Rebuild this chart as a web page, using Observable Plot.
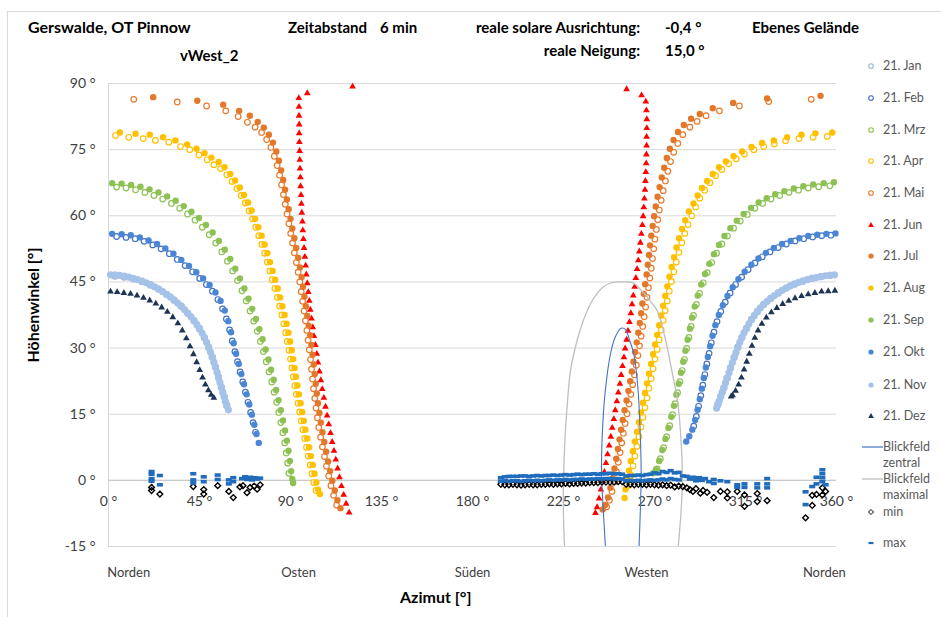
<!DOCTYPE html>
<html><head><meta charset="utf-8">
<script src="https://cdn.jsdelivr.net/npm/d3@7"></script>
<script src="https://cdn.jsdelivr.net/npm/@observablehq/plot@0.6"></script>
<style>
body{margin:0;background:#fff;}
#wrap{position:relative;width:941px;height:617px;overflow:hidden;font-family:Lato,"Open Sans",sans-serif;color:#000;background:#fff;}
#wrap svg.plot{position:absolute;left:0;top:0;}
.frame{position:absolute;left:7px;top:11px;width:940px;height:610px;border-left:1px solid #d9d9d9;border-top:1px solid #d9d9d9;}
.t{position:absolute;white-space:nowrap;font-weight:bold;font-size:15px;line-height:16px;}
.lg{position:absolute;left:862px;font-size:12.5px;color:#595959;line-height:16px;white-space:nowrap;}
.lg svg{position:absolute;left:0;top:0;overflow:visible;}
.lg span{position:absolute;left:21px;top:0;}
</style></head><body>
<div id="wrap">
<div class="frame"></div>
<div class="t" style="left:28px;top:19px;font-size:16px;">Gerswalde, OT Pinnow</div>
<div class="t" style="left:288px;top:19px;">Zeitabstand</div>
<div class="t" style="left:380px;top:19px;">6 min</div>
<div class="t" style="right:301px;top:19px;text-align:right;">reale solare Ausrichtung:</div>
<div class="t" style="left:665px;top:19px;">-0,4 °</div>
<div class="t" style="left:752px;top:19px;">Ebenes Gelände</div>
<div class="t" style="left:180px;top:47px;">vWest_2</div>
<div class="t" style="right:301px;top:42px;text-align:right;">reale Neigung:</div>
<div class="t" style="left:665px;top:42px;">15,0 °</div>
<div class="t" style="left:400px;top:589px;font-size:16px;">Azimut [°]</div>
<div class="t" style="left:33px;top:305px;font-size:16px;transform:translate(-50%,-50%) rotate(-90deg);">Höhenwinkel [°]</div>
</div>
<script>
// ---------- axes / labels ----------
const xTicks = [0, 45, 90, 135, 180, 225, 270, 315, 360];
const yTicks = [-15, 0, 15, 30, 45, 60, 75, 90];
const directions = ["Norden", "Osten", "Süden", "Westen", "Norden"];
const directionAz = [10, 94, 180, 266, 354];
const monthNames = ["21. Jan","21. Feb","21. Mrz","21. Apr","21. Mai","21. Jun","21. Jul","21. Aug","21. Sep","21. Okt","21. Nov","21. Dez"];

// ---------- sun paths [azimuth, elevation] ----------
const janL = [[3.2,46.3],[7.7,46.1],[12.2,45.7],[16.5,45.1],[20.7,44.3],[24.8,43.4],[28.7,42.2],[32.4,40.9],[35.9,39.5],[39.2,37.9],[42.3,36.2],[45.0,34.4],[47.4,32.4],[49.5,30.2],[51.3,28.0],[52.9,25.7],[54.4,23.4],[55.8,21.1],[57.2,19.0],[58.5,17.0]];
const janR = [[356.8,46.5],[352.3,46.2],[347.8,45.8],[343.4,45.2],[339.2,44.5],[335.1,43.6],[331.2,42.5],[327.5,41.3],[324.0,39.9],[320.9,38.3],[318.0,36.5],[315.5,34.5],[313.2,32.4],[311.2,30.2],[309.4,27.9],[307.6,25.5],[305.9,23.2],[304.3,21.0],[302.7,19.0],[301.3,17.2]];
const febL = [[4.0,55.3],[8.7,55.1],[13.2,54.8],[17.6,54.2],[21.9,53.4],[26.0,52.5],[30.1,51.4],[34.0,50.1],[37.9,48.7],[41.6,47.3],[45.1,45.8],[48.4,44.4],[51.4,42.9],[54.1,41.0],[56.4,38.9],[58.3,36.6],[59.9,34.1],[61.2,31.6],[62.5,29.2],[63.8,26.9],[65.1,24.6],[66.4,22.3],[67.7,20.0],[69.0,17.7],[70.3,15.4],[71.5,13.1],[72.7,10.9]];
const febR = [[357.2,55.6],[352.7,55.5],[348.2,55.2],[343.8,54.8],[339.5,54.3],[335.2,53.6],[331.1,52.8],[327.1,51.8],[323.3,50.7],[319.7,49.3],[316.3,47.8],[313.1,46.1],[310.1,44.4],[307.4,42.5],[305.0,40.4],[302.8,38.3],[300.9,36.0],[299.4,33.6],[298.1,31.2],[297.0,28.8],[295.9,26.4],[294.9,24.0],[293.9,21.6],[292.9,19.2],[291.8,16.8],[290.7,14.5],[289.4,12.3]];
const mrzL = [[4.0,66.5],[8.7,66.3],[13.4,65.9],[18.0,65.3],[22.5,64.6],[26.8,63.8],[31.1,62.8],[35.2,61.7],[39.1,60.4],[42.8,59.0],[46.4,57.4],[49.8,55.7],[53.0,53.8],[56.0,51.8],[58.8,49.7],[61.4,47.5],[63.8,45.3],[66.0,43.0],[68.1,40.7],[70.0,38.4],[71.8,36.1],[73.5,33.8],[75.1,31.5],[76.6,29.2],[78.0,26.9],[79.4,24.6],[80.7,22.3],[81.9,20.0],[83.1,17.7],[84.2,15.4],[85.2,13.1],[86.2,10.8],[87.1,8.5],[87.9,6.2],[88.6,3.9],[89.2,1.6]];
const mrzR = [[356.7,66.8],[351.2,66.6],[346.0,66.3],[341.2,65.8],[336.5,65.3],[331.9,64.6],[327.6,63.8],[323.5,62.8],[319.6,61.7],[315.9,60.3],[312.4,58.8],[309.1,57.2],[306.1,55.4],[303.3,53.6],[300.7,51.5],[298.3,49.4],[296.1,47.1],[294.1,44.8],[292.3,42.4],[290.7,39.9],[289.3,37.4],[288.1,34.9],[287.0,32.4],[285.9,29.9],[284.8,27.4],[283.7,24.9],[282.6,22.4],[281.4,19.9],[280.2,17.4],[278.9,14.9],[277.5,12.4],[276.0,9.9],[274.5,7.4],[272.9,4.9],[271.3,2.6]];
const aprL = [[3.5,78.2],[10.0,77.8],[17.2,77.5],[23.2,77.1],[29.8,76.7],[35.6,75.7],[40.2,75.0],[44.7,73.8],[48.8,72.7],[52.1,71.6],[55.4,70.7],[58.5,69.3],[61.1,67.8],[63.5,66.2],[65.6,64.6],[67.6,62.9],[69.5,61.1],[71.2,59.3],[72.8,57.4],[74.3,55.5],[75.8,53.5],[77.2,51.5],[78.5,49.5],[79.8,47.5],[81.0,45.5],[82.3,43.5],[83.5,41.5],[84.6,39.5],[85.7,37.5],[86.7,35.5],[87.6,33.5],[88.4,31.5],[89.2,29.5],[90.0,27.5],[90.7,25.5],[91.4,23.5],[92.1,21.5],[92.9,19.5],[93.7,17.5],[94.5,15.5],[95.3,13.5],[96.1,11.5],[97.0,9.5],[97.9,7.5],[98.8,5.5],[99.7,3.5],[100.6,1.5],[101.5,-0.5],[102.6,-2.3]];
const aprR = [[355.4,78.0],[348.4,77.8],[341.4,77.5],[334.8,77.0],[329.3,76.3],[324.0,75.7],[319.1,75.0],[314.5,74.0],[310.4,72.9],[306.7,71.8],[303.3,70.5],[300.2,69.1],[297.4,67.5],[294.8,65.8],[292.4,64.0],[290.3,62.0],[288.4,60.0],[286.6,58.0],[285.0,56.0],[283.5,53.9],[282.1,51.7],[280.8,49.5],[279.6,47.3],[278.4,45.1],[277.3,42.9],[276.3,40.7],[275.3,38.5],[274.3,36.3],[273.3,34.1],[272.3,31.9],[271.3,29.7],[270.3,27.5],[269.3,25.3],[268.3,23.1],[267.3,20.9],[266.3,18.7],[265.3,16.5],[264.3,14.3],[263.3,12.1],[262.3,9.9],[261.3,7.7],[260.3,5.5],[259.4,3.3],[258.5,1.1],[257.6,-1.1]];
const maiL = [[12.5,86.4],[34.0,85.8],[48.5,84.9],[58.0,83.8],[64.1,82.5],[68.7,81.2],[72.5,80.1],[75.7,78.9],[78.2,77.3],[80.3,75.5],[82.0,73.5],[83.4,71.4],[84.6,69.2],[85.6,67.0],[86.5,64.8],[87.4,62.6],[88.3,60.4],[89.2,58.2],[90.1,56.0],[91.0,53.8],[91.9,51.6],[92.9,49.4],[93.8,47.2],[94.6,45.0],[95.3,42.8],[96.0,40.6],[96.7,38.4],[97.4,36.2],[98.1,34.0],[98.7,31.8],[99.3,29.6],[99.9,27.4],[100.4,25.2],[100.9,23.0],[101.4,20.8],[102.0,18.6],[102.6,16.4],[103.3,14.2],[104.0,12.0],[104.9,9.8],[105.8,7.6],[106.8,5.4],[107.8,3.2],[108.9,1.0],[110.0,-1.2],[111.3,-3.4],[112.8,-5.6]];
const maiR = [[347.5,86.4],[326.5,85.9],[312.0,84.9],[302.1,83.8],[295.5,82.7],[291.1,81.4],[287.5,80.1],[284.0,78.4],[281.5,76.4],[279.5,74.4],[277.9,72.3],[276.6,70.1],[275.4,67.9],[274.3,65.7],[273.3,63.5],[272.4,61.3],[271.6,59.1],[270.9,56.9],[270.2,54.7],[269.6,52.5],[269.0,50.3],[268.4,48.1],[267.7,45.9],[267.0,43.7],[266.3,41.5],[265.6,39.3],[264.9,37.1],[264.2,34.9],[263.4,32.7],[262.6,30.5],[261.8,28.3],[261.0,26.1],[260.1,23.9],[259.2,21.7],[258.3,19.5],[257.4,17.3],[256.4,15.1],[255.5,12.9],[254.6,10.7],[253.8,8.5],[253.0,6.3],[252.1,4.1],[251.2,1.9],[250.2,-0.3],[249.0,-2.5],[247.7,-4.5],[246.3,-6.0]];
const junL = [[120.7,89.3],[98.3,87.8],[94.1,86.7],[94.2,84.7],[94.2,82.7],[94.3,80.7],[94.3,78.7],[94.4,76.7],[94.5,74.7],[94.6,72.7],[94.7,70.7],[94.9,68.7],[95.0,66.7],[95.2,64.7],[95.4,62.7],[95.6,60.7],[95.9,58.7],[96.1,56.7],[96.4,54.7],[96.7,52.7],[97.1,50.7],[97.5,48.7],[97.8,46.7],[98.3,44.7],[98.8,42.7],[99.3,40.7],[99.8,38.7],[100.4,36.7],[101.0,34.7],[101.6,32.7],[102.3,30.7],[103.0,28.7],[103.6,26.7],[104.3,24.7],[105.0,22.7],[105.7,20.7],[106.5,18.7],[107.3,16.7],[108.1,14.7],[108.9,12.7],[109.8,10.7],[110.6,8.7],[111.5,6.7],[112.4,4.7],[113.3,2.7],[114.2,0.7],[115.2,-1.3],[116.3,-3.3],[117.5,-5.3],[119.0,-7.3]];
const junR = [[256.2,88.7],[263.6,87.3],[265.7,85.9],[266.0,83.9],[266.2,81.9],[266.2,79.9],[266.1,77.9],[266.1,75.9],[266.0,73.9],[265.9,71.9],[265.7,69.9],[265.5,67.9],[265.3,65.9],[265.0,63.9],[264.7,61.9],[264.4,59.9],[264.0,57.9],[263.5,55.9],[263.0,53.9],[262.5,51.9],[262.0,49.9],[261.4,47.9],[260.8,45.9],[260.2,43.9],[259.5,41.9],[258.9,39.9],[258.3,37.9],[257.6,35.9],[256.9,33.9],[256.2,31.9],[255.5,29.9],[254.9,27.9],[254.2,25.9],[253.5,23.9],[252.9,21.9],[252.1,19.9],[251.4,17.9],[250.6,15.9],[249.9,13.9],[249.1,11.9],[248.4,9.9],[247.6,7.9],[246.8,5.9],[246.0,3.9],[245.2,1.9],[244.4,-0.1],[243.5,-2.1],[242.6,-4.1],[241.6,-6.1],[240.8,-7.4]];
const julL = [[22.1,86.9],[43.9,86.1],[56.7,85.2],[64.6,83.8],[69.9,82.7],[73.8,81.3],[76.8,80.0],[79.3,78.4],[81.3,76.6],[83.0,74.6],[84.3,72.5],[85.4,70.3],[86.4,68.1],[87.3,65.9],[88.2,63.7],[89.1,61.5],[90.0,59.3],[90.9,57.1],[91.9,54.9],[92.8,52.7],[93.8,50.5],[94.7,48.3],[95.5,46.1],[96.2,43.9],[96.9,41.7],[97.6,39.5],[98.3,37.3],[99.0,35.1],[99.7,32.9],[100.3,30.7],[100.9,28.5],[101.5,26.3],[102.0,24.1],[102.5,21.9],[103.0,19.7],[103.6,17.5],[104.3,15.3],[105.0,13.1],[105.8,10.9],[106.7,8.7],[107.6,6.5],[108.6,4.3],[109.6,2.1],[110.7,-0.1],[111.9,-2.3],[113.2,-4.5],[114.7,-6.3]];
const julR = [[352.1,87.2],[325.7,86.6],[308.9,85.6],[298.8,84.4],[292.4,83.1],[288.1,82.0],[284.5,80.6],[281.6,79.0],[279.4,77.2],[277.6,75.2],[276.1,73.1],[274.8,70.9],[273.6,68.7],[272.5,66.5],[271.5,64.3],[270.6,62.1],[269.8,59.9],[269.1,57.7],[268.4,55.5],[267.8,53.3],[267.3,51.1],[266.7,48.9],[266.1,46.7],[265.4,44.5],[264.7,42.3],[264.0,40.1],[263.4,37.9],[262.7,35.7],[262.0,33.5],[261.2,31.3],[260.4,29.1],[259.6,26.9],[258.8,24.7],[258.0,22.5],[257.1,20.3],[256.2,18.1],[255.2,15.9],[254.3,13.7],[253.5,11.5],[252.7,9.3],[251.9,7.1],[251.1,4.9],[250.2,2.7],[249.3,0.5],[248.2,-1.7],[247.0,-3.9],[245.6,-5.6],[244.4,-6.6]];
const augL = [[5.6,78.9],[13.4,78.6],[20.4,78.4],[27.0,77.8],[33.1,77.1],[38.9,76.2],[43.5,75.2],[47.5,74.2],[50.9,73.2],[54.5,72.2],[57.4,71.0],[60.2,69.5],[62.6,68.0],[64.9,66.4],[67.0,64.7],[69.0,63.0],[70.8,61.2],[72.5,59.3],[74.1,57.4],[75.7,55.5],[77.2,53.5],[78.6,51.5],[79.9,49.5],[81.2,47.5],[82.4,45.5],[83.7,43.5],[84.9,41.5],[86.0,39.5],[87.1,37.5],[88.1,35.5],[89.0,33.5],[89.8,31.5],[90.6,29.5],[91.3,27.5],[92.0,25.5],[92.7,23.5],[93.4,21.5],[94.2,19.5],[95.0,17.5],[95.8,15.5],[96.6,13.5],[97.4,11.5],[98.3,9.5],[99.2,7.5],[100.1,5.5],[101.0,3.5],[101.9,1.5],[102.8,-0.5],[103.7,-2.1],[104.5,-3.1]];
const augR = [[357.9,78.9],[349.6,78.7],[342.7,78.4],[335.6,77.8],[329.0,77.1],[323.2,76.5],[318.0,75.6],[313.3,74.6],[309.1,73.5],[305.3,72.3],[301.9,71.0],[298.8,69.5],[296.0,67.9],[293.5,66.3],[291.3,64.6],[289.3,62.8],[287.0,61.0],[285.2,59.0],[283.6,57.0],[282.2,54.9],[280.9,52.8],[279.7,50.6],[278.5,48.4],[277.4,46.2],[276.3,44.0],[275.3,41.8],[274.3,39.6],[273.3,37.4],[272.3,35.2],[271.3,33.0],[270.3,30.8],[269.3,28.6],[268.3,26.4],[267.3,24.2],[266.3,22.0],[265.3,19.8],[264.3,17.6],[263.3,15.4],[262.3,13.2],[261.3,11.0],[260.3,8.8],[259.3,6.6],[258.3,4.4],[257.4,2.2],[256.5,0.2],[255.7,-2.0],[255.2,-4.0]];
const sepL = [[1.8,67.4],[6.5,67.3],[11.2,67.0],[15.8,66.6],[20.3,66.0],[24.7,65.3],[29.0,64.4],[33.2,63.4],[37.2,62.2],[41.0,60.9],[44.7,59.5],[48.2,57.9],[51.5,56.2],[54.6,54.3],[57.5,52.3],[60.2,50.2],[62.7,48.0],[65.0,45.8],[67.2,43.5],[69.2,41.2],[71.1,38.9],[72.9,36.6],[74.6,34.3],[76.2,32.0],[77.7,29.7],[79.1,27.4],[80.4,25.1],[81.7,22.8],[82.9,20.5],[84.1,18.2],[85.2,15.9],[86.3,13.6],[87.3,11.3],[88.2,9.0],[89.0,6.7],[89.7,4.4],[90.3,2.1],[90.9,0.3],[91.3,-0.6]];
const sepR = [[358.7,67.6],[353.7,67.4],[348.5,67.1],[343.6,66.7],[338.9,66.2],[334.2,65.6],[329.7,64.9],[325.5,64.0],[321.5,63.0],[317.7,61.8],[314.1,60.4],[310.7,58.9],[307.5,57.2],[304.6,55.4],[301.9,53.4],[299.4,51.3],[297.1,49.1],[295.0,46.8],[293.1,44.4],[291.4,41.9],[289.9,39.4],[288.6,36.9],[287.5,34.4],[286.4,31.9],[285.3,29.4],[284.2,26.9],[283.1,24.4],[282.0,21.9],[280.8,19.4],[279.6,16.9],[278.3,14.4],[276.9,11.9],[275.4,9.4],[273.9,6.9],[272.3,4.4],[270.7,2.5],[269.3,1.6]];
const oktL = [[1.8,55.9],[6.5,55.8],[11.0,55.6],[15.5,55.1],[19.8,54.4],[24.0,53.6],[28.1,52.6],[32.1,51.4],[36.0,50.0],[39.8,48.6],[43.4,47.2],[46.8,45.8],[50.0,44.3],[52.9,42.6],[55.4,40.7],[57.5,38.5],[59.2,36.1],[60.6,33.6],[61.9,31.1],[63.1,28.7],[64.4,26.4],[65.7,24.1],[67.0,21.8],[68.3,19.5],[69.6,17.2],[70.9,14.9],[72.1,12.6],[73.2,10.5],[74.3,8.5]];
const oktR = [[359.5,56.0],[355.0,55.9],[350.5,55.7],[346.0,55.4],[341.6,54.9],[337.3,54.3],[333.1,53.6],[329.0,52.7],[325.1,51.6],[321.4,50.3],[317.9,48.9],[314.6,47.3],[311.5,45.6],[308.7,43.8],[306.1,41.8],[303.8,39.7],[301.8,37.5],[300.1,35.2],[298.7,32.8],[297.5,30.4],[296.4,28.0],[295.4,25.6],[294.4,23.2],[293.4,20.8],[292.4,18.4],[291.3,16.0],[290.1,13.7],[288.7,11.5],[287.2,10.0],[285.7,8.8]];
const novL = [[1.0,46.6],[3.3,46.6],[5.5,46.5],[7.8,46.3],[10.0,46.1],[12.2,45.8],[14.4,45.5],[16.6,45.2],[18.7,44.8],[20.8,44.4],[22.8,43.9],[24.8,43.4],[26.8,42.8],[28.7,42.2],[30.6,41.6],[32.4,40.9],[34.2,40.2],[35.9,39.5],[37.6,38.7],[39.2,37.9],[40.8,37.1],[42.3,36.2],[43.7,35.3],[45.0,34.4],[46.3,33.4],[47.4,32.4],[48.5,31.3],[49.5,30.2],[50.4,29.1],[51.3,28.0],[52.1,26.8],[52.9,25.7],[53.7,24.5],[54.4,23.4],[55.1,22.2],[55.8,21.1],[56.5,20.0],[57.2,19.0],[57.8,17.9],[58.5,17.0],[59.3,16.0]];
const novR = [[359.0,46.6],[356.8,46.5],[354.5,46.4],[352.3,46.2],[350.0,46.0],[347.8,45.8],[345.6,45.5],[343.4,45.2],[341.3,44.9],[339.2,44.5],[337.1,44.1],[335.1,43.6],[333.1,43.1],[331.2,42.5],[329.3,41.9],[327.5,41.3],[325.7,40.6],[324.0,39.9],[322.4,39.1],[320.9,38.3],[319.4,37.4],[318.0,36.5],[316.7,35.5],[315.5,34.5],[314.3,33.5],[313.2,32.4],[312.2,31.3],[311.2,30.2],[310.3,29.0],[309.4,27.9],[308.5,26.7],[307.6,25.5],[306.8,24.4],[305.9,23.2],[305.1,22.1],[304.3,21.0],[303.5,20.0],[302.7,19.0],[302.0,18.0],[301.3,17.2],[300.7,16.4]];
const dezL = [[1.0,42.8],[4.3,42.7],[7.6,42.5],[10.9,42.3],[14.1,41.9],[17.3,41.4],[20.4,40.8],[23.4,40.1],[26.3,39.2],[29.1,38.2],[31.8,37.0],[34.3,35.6],[36.5,34.0],[38.5,32.2],[40.3,30.4],[42.0,28.6],[43.6,26.8],[45.1,25.0],[46.5,23.3],[47.9,21.7],[49.4,20.4],[50.8,19.4],[52.1,18.7]];
const dezR = [[359.2,43.0],[355.9,42.9],[352.6,42.8],[349.3,42.5],[346.0,42.2],[342.7,41.8],[339.5,41.3],[336.4,40.7],[333.4,40.0],[330.5,39.1],[327.8,38.1],[325.3,36.9],[323.1,35.5],[321.2,34.0],[319.6,32.3],[318.2,30.5],[316.9,28.7],[315.6,26.9],[314.3,25.1],[313.0,23.3],[311.6,21.7],[310.1,20.3],[308.6,19.3],[307.9,19.0]];

// ---------- field of view outlines ----------
const blickZentral = [[246.2,-20],[245.8,-15.6],[244.5,-5.4],[243.8,2],[244.5,13.4],[245.8,20.9],[248.2,28.6],[250.7,32.6],[253.5,34.5],[255.7,34.2],[257.3,32.3],[259.8,28.6],[261.8,20.9],[262.7,13.4],[263.4,2],[263.1,-5.4],[262.3,-15.6],[262.0,-20]];
const blickMaximal = [[226.0,-20],[225.5,-15],[225.0,-8],[225.0,0],[225.8,10],[227.0,18],[228.5,25],[231.9,32],[235.0,36.5],[238.3,40],[241.5,42.3],[244.5,43.8],[248.0,44.7],[252.0,45],[256.0,45],[259.5,44.8],[263.0,43.3],[266.0,41.8],[268.0,40.6],[271.5,38.3],[275.4,32],[278.5,25],[281.4,18],[283.0,10],[283.8,0],[283.0,-8],[281.8,-15],[281.5,-20]];

// ---------- horizon min / max ----------
const bandAz    = [194,196,198,200,202,204,206,208,210,212,214,216,218,220,222,224,226,228,230,232,234,236,238,240,242,244,246,248,250,252,254,256,258,260,262,264,266,268,270,272,274,276,278,280,282];
const bandMaxHi = [0.6,0.8,0.9,0.9,0.9,1.0,1.0,0.9,1.0,1.1,1.0,1.1,1.1,1.2,1.1,1.2,1.3,1.2,1.3,1.4,1.3,1.4,1.4,1.5,1.4,1.5,1.5,1.6,1.5,1.5,1.4,1.0,1.1,1.1,1.2,1.1,1.3,1.4,1.7,1.5,2.0,1.8,2.2,1.7,1.8];
const bandMaxLo = [-0.2,-0.1,-0.2,-0.1,-0.1,-0.2,-0.1,0,-0.1,0,-0.1,0,0.1,0,0.1,0.1,0.2,0.1,0.2,0.2,0.3,0.2,0.3,0.3,0.4,0.3,0.4,0.4,0.3,0.4,0.3,-0.1,0,-0.1,0,-0.1,0,0.1,0,0.1,0.3,0.1,0.4,0.2,0.1];
const bandMin   = [-0.9,-1.0,-1.0,-0.9,-1.0,-1.1,-1.0,-0.9,-1.0,-1.0,-0.9,-0.9,-0.8,-0.9,-0.8,-0.8,-0.7,-0.8,-0.7,-0.7,-0.6,-0.6,-0.5,-0.5,-0.5,-0.4,-0.4,-0.4,-0.4,-0.3,-0.3,-0.9,-0.9,-1.0,-0.9,-0.9,-1.0,-0.9,-1.0,-1.1,-1.0,-1.2,-1.1,-1.5,-1.3];
const maxScatter = [[21.3,2.0],[21.3,1.4],[21.3,0.4],[21.3,-0.2],[25.4,1.1],[25.4,-1.0],[41.9,1.5],[41.9,0.1],[41.9,-0.6],[47.1,0.8],[47.1,-0.3],[54,1.2],[54,0.2],[59.5,0.1],[59.5,-0.8],[61.7,0.6],[61.7,-0.3],[66,0.4],[67.5,0.8],[68.5,0.2],[70,0.7],[71,0.1],[72.5,0.6],[73.5,0.3],[75,0.5],[284,1.0],[286,0.9],[287.5,0.3],[289,0.7],[290.5,-0.1],[292,0.6],[293.5,0.0],[295,0.4],[297,-0.3],[299.3,0.2],[299.3,-0.7],[302.6,-0.1],[306,-0.3],[310.9,-1.0],[310.9,-1.6],[314.5,-0.8],[314.5,-1.6],[320.8,-0.8],[320.8,-1.7],[325.7,0.4],[325.7,-0.8],[325.7,-1.7],[344.7,-2.6],[344.7,-5.5],[348,-1.4],[350.1,0.7],[350.1,-0.8],[353,2.4],[353,1.5],[353,0.6],[353,-0.3],[354.6,-1.0]];
const minScatter = [[21.3,-1.6],[21.3,-2.3],[25.4,-3.1],[41.9,-1.4],[47.1,-2.1],[47.1,-3.1],[54,-1.2],[59.5,-2.5],[61.7,-3.9],[65,-1.5],[66.5,-1.2],[68.5,-2.8],[70,-1.6],[72,-1.3],[73.5,-2.0],[75,-1.0],[284,-1.4],[286,-1.7],[287.5,-2.1],[289,-2.5],[290.5,-1.9],[292.7,-2.9],[294,-2.3],[296,-2.7],[299.3,-3.9],[302.6,-2.5],[306,-2.6],[306,-4.0],[310.9,-2.5],[314.5,-3.3],[314.5,-5.9],[320.8,-3.0],[320.8,-4.8],[325.7,-4.6],[344.7,-8.5],[348,-3.4],[348,-5.7],[350.1,-3.2],[353,-1.7],[353,-3.3],[354.6,-2.5]];

// ---------- build ----------
const monthData = [janL.concat(janR), febL.concat(febR), mrzL.concat(mrzR), aprL.concat(aprR), maiL.concat(maiR), junL.concat(junR), julL.concat(julR), augL.concat(augR), sepL.concat(sepR), oktL.concat(oktR), novL.concat(novR), dezL.concat(dezR)];
const styles = [
  {kind:"hollow", color:"#9fb6d3", r:3.0},
  {kind:"hollow", color:"#4472c4", r:2.8},
  {kind:"hollow", color:"#8dc153", r:2.8},
  {kind:"hollow", color:"#ffc000", r:2.8},
  {kind:"hollow", color:"#e97a2b", r:2.8},
  {kind:"tri", color:"#ff0000", r:2.5},
  {kind:"filled", color:"#e3782b", r:3.2},
  {kind:"filled", color:"#ffc000", r:3.2},
  {kind:"filled", color:"#8dc153", r:3.2},
  {kind:"filled", color:"#4a86d6", r:3.2},
  {kind:"filled", color:"#a5c2e8", r:3.6},
  {kind:"tri", color:"#1f3455", r:2.5}
];
const maxColor = "#1f6cbd";
const X = d => d[0], Y = d => d[1];
const dash = {draw(ctx, size) { const w = Math.sqrt(size) * 0.45; ctx.moveTo(-w, 0); ctx.lineTo(w, 0); }};

const monthMarks = monthData.map((pts, i) => {
  const s = styles[i];
  if (s.kind === "hollow") return Plot.dot(pts, {x: X, y: Y, r: s.r, fill: "white", stroke: s.color, strokeWidth: 1.2});
  if (s.kind === "filled") return Plot.dot(pts, {x: X, y: Y, r: s.r, fill: s.color, stroke: "none"});
  return Plot.dot(pts, {x: X, y: Y, r: s.r, symbol: "triangle", fill: s.color, stroke: "none"});
});

const bandMaxPts = bandAz.map((a, i) => [a, bandMaxHi[i]]).concat(bandAz.map((a, i) => [a, bandMaxLo[i]])).concat(maxScatter);
const bandMinPts = bandAz.map((a, i) => [a, bandMin[i]]).concat(minScatter);

const chart = Plot.plot({
  width: 941, height: 617,
  marginLeft: 108, marginRight: 105, marginTop: 83, marginBottom: 71,
  style: {fontFamily: "Lato, 'Open Sans', sans-serif", fontSize: "14px", background: "transparent", overflow: "visible"},
  x: {domain: [0, 360], axis: null},
  y: {domain: [-15, 90]},
  marks: [
    Plot.gridY(yTicks, {stroke: "#d9d9d9", strokeOpacity: 1}),
    Plot.ruleX([0], {stroke: "#d9d9d9"}),
    Plot.ruleY([0], {stroke: "#c8c8c8", strokeWidth: 1.3}),
    Plot.axisY(yTicks, {tickSize: 0, tickPadding: 13, tickFormat: d => `${d} °`, fontSize: 14, color: "#404040", label: null}),
    Plot.text(xTicks, {x: d => d, y: 0, dy: 21, text: d => `${d} °`, fontSize: 14, fill: "#404040"}),
    Plot.text(directions, {x: (d, i) => directionAz[i], y: -21, text: d => d, fontSize: 13, fill: "#404040"}),
    ...monthMarks,
    Plot.line(blickZentral, {x: X, y: Y, stroke: "#4472c4", strokeWidth: 1.1, curve: "catmull-rom", clip: true}),
    Plot.line(blickMaximal, {x: X, y: Y, stroke: "#bfbfbf", strokeWidth: 1.3, curve: "catmull-rom", clip: true}),
    Plot.dot(bandMinPts, {x: X, y: Y, symbol: "diamond2", r: 2.6, stroke: "#000", strokeWidth: 1.4}),
    Plot.dot(bandMaxPts, {x: X, y: Y, symbol: dash, r: 3.8, stroke: maxColor, strokeWidth: 3.6})
  ]
});
chart.classList.add("plot");
const wrap = document.getElementById("wrap");
wrap.appendChild(chart);

// ---------- legend ----------
const legendY = [66, 98, 130, 161, 193, 225, 256, 288, 320, 352, 385, 416];
function marker(s) {
  if (s.kind === "hollow") return `<circle cx="9" cy="8" r="2.3" fill="white" stroke="${s.color}" stroke-width="1.1"/>`;
  if (s.kind === "filled") return `<circle cx="9" cy="8" r="2.6" fill="${s.color}"/>`;
  return `<path d="M9,5 L11.8,10 L6.2,10 Z" fill="${s.color}"/>`;
}
monthNames.forEach((m, i) => {
  const d = document.createElement("div");
  d.className = "lg";
  d.style.top = (legendY[i] - 8) + "px";
  d.innerHTML = `<svg width="20" height="16">${marker(styles[i])}</svg><span>${m}</span>`;
  wrap.appendChild(d);
});
const extra = [
  {y: 447, svg: `<line x1="0" y1="8" x2="21" y2="8" stroke="#4472c4" stroke-width="1.2"/>`, text: "Blickfeld<br>zentral"},
  {y: 479, svg: `<line x1="0" y1="8" x2="21" y2="8" stroke="#bfbfbf" stroke-width="1.3"/>`, text: "Blickfeld<br>maximal"},
  {y: 512, svg: `<path d="M9,5.5 L11.5,8 L9,10.5 L6.5,8 Z" fill="none" stroke="#000" stroke-width="1"/>`, text: "min"},
  {y: 543, svg: `<line x1="6.5" y1="8" x2="11.5" y2="8" stroke="${maxColor}" stroke-width="2.2"/>`, text: "max"}
];
extra.forEach(e => {
  const d = document.createElement("div");
  d.className = "lg";
  d.style.top = (e.y - 8) + "px";
  d.innerHTML = `<svg width="22" height="16">${e.svg}</svg><span>${e.text}</span>`;
  wrap.appendChild(d);
});
</script>
</body></html>
